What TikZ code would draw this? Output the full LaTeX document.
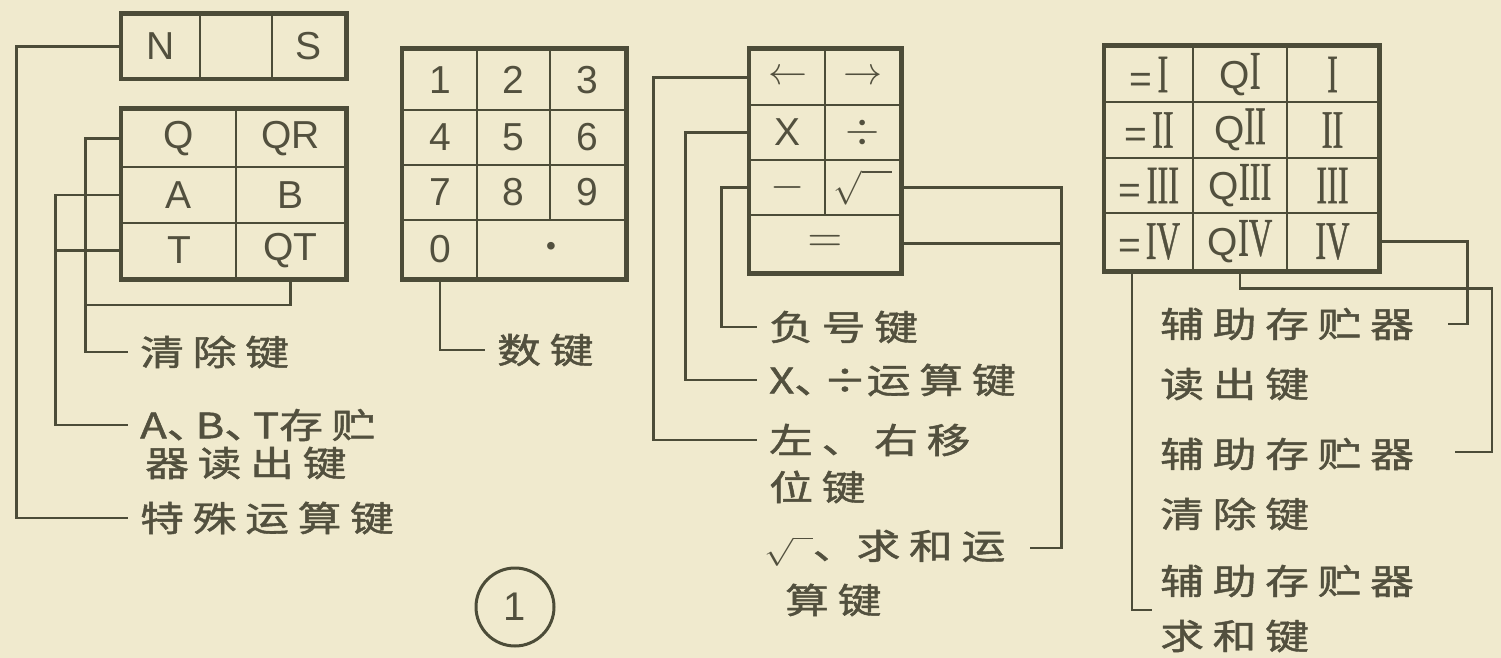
\RequirePackage{fix-cm}
\documentclass[tikz,border=0pt]{standalone}
\usepackage{graphicx}
\usepackage{fontspec}
\setmainfont{Liberation Sans}
\newfontfamily\cjk[LetterSpace=20,FakeBold=1.2]{Noto Sans CJK SC}
\newfontfamily\cjkt[FakeBold=1.2]{Noto Sans CJK SC}
\newfontfamily\serifnum[FakeBold=1]{Liberation Serif}
\newcommand\cn[1]{\scalebox{1.25}[1]{\cjk #1}}
\newcommand\rn[1]{\scalebox{0.6}[1]{\serifnum\fontsize{54}{54}\selectfont #1}}
\definecolor{paper}{RGB}{240,234,206}
\definecolor{ink}{RGB}{76,76,56}
\definecolor{txt}{RGB}{82,80,62}
\begin{document}
\begin{tikzpicture}[x=1pt,y=-1pt,
  cell/.style={draw=ink, line width=2.5pt, rectangle, inner sep=0pt, text=txt,
    font=\fontsize{39}{39}\selectfont},
  frame/.style={draw=ink, line width=4.5pt},
  conn/.style={draw=ink, line width=2.8pt},
  lbl/.style={text=txt, inner xsep=12pt, inner ysep=0pt, anchor=west,
    font=\fontsize{35}{35}\selectfont}
]
\fill[paper] (0,0) rectangle (1501,658);
\useasboundingbox (0,0) rectangle (1501,658);

% ---------- panel 1: N S ----------
\node[cell, minimum width=78pt, minimum height=63pt] (ns1) at (161,46.5) {N};
\node[cell, minimum width=72pt, minimum height=63pt] (ns2) at (236,46.5) {};
\node[cell, minimum width=73pt, minimum height=63pt] (ns3) at (308.5,46.5) {S};
\draw[frame] (ns1.north west) rectangle (ns3.south east);

% ---------- panel 2: Q QR A B T QT ----------
\node[cell, minimum width=114pt, minimum height=57pt] (q)  at (179,138.5) {Q};
\node[cell, minimum width=109pt, minimum height=57pt] (qr) at (290.5,138.5) {QR};
\node[cell, minimum width=114pt, minimum height=56pt] (a)  at (179,195) {A};
\node[cell, minimum width=109pt, minimum height=56pt] (b)  at (290.5,195) {B};
\node[cell, minimum width=114pt, minimum height=55pt] (t)  at (179,250.5) {T};
\node[cell, minimum width=109pt, minimum height=55pt] (qt) at (290.5,250.5) {QT};
\draw[frame] (q.north west) rectangle (qt.south east);

\node[lbl] (clr) at (128,352) {\cn{清除键}};
\node[lbl] (abt1) at (128,425) {\cn{\cjkt A、\kern-12pt B、\kern-12pt T\cjk 存贮}};
\node[lbl] (abt2) at (133,463) {\cn{器读出键}};
\node[lbl] (spc) at (128,518) {\cn{特殊运算键}};

\coordinate (qjoin) at (87,305);
\draw[conn] (ns1.west) -- ++(-104,0) |- (spc.west);
\draw[conn] (q.west) -- ++(-35,0) |- (clr.west);
\draw[conn] (qt.south) |- (qjoin);
\draw[conn] (a.west) -- ++(-65,0) |- (abt1.west);
\draw[conn] (t.west) -- ++(-65,0);

% ---------- panel 3: digits ----------
\begin{scope}[every node/.append style={font=\fontsize{41}{41}\selectfont}]
\node[cell, minimum width=74pt, minimum height=60pt] (k1) at (440,80) {1};
\node[cell, minimum width=73pt, minimum height=60pt] (k2) at (513.5,80) {2};
\node[cell, minimum width=75pt, minimum height=60pt] (k3) at (587.5,80) {3};
\node[cell, minimum width=74pt, minimum height=55pt] (k4) at (440,137.5) {4};
\node[cell, minimum width=73pt, minimum height=55pt] (k5) at (513.5,137.5) {5};
\node[cell, minimum width=75pt, minimum height=55pt] (k6) at (587.5,137.5) {6};
\node[cell, minimum width=74pt, minimum height=55pt] (k7) at (440,192.5) {7};
\node[cell, minimum width=73pt, minimum height=55pt] (k8) at (513.5,192.5) {8};
\node[cell, minimum width=75pt, minimum height=55pt] (k9) at (587.5,192.5) {9};
\node[cell, minimum width=74pt, minimum height=58pt] (k0) at (440,249) {0};
\node[cell, minimum width=148pt, minimum height=58pt] (kd) at (551,249) {\fontsize{28}{28}\selectfont •};
\end{scope}
\draw[frame] (k1.north west) rectangle (kd.south east);
\node[lbl] (numl) at (485,350) {\cn{数键}};
\draw[conn] (k0.south) |- (numl.west);

% ---------- panel 4: operators ----------
\begin{scope}[every node/.append style={font=\fontsize{50}{50}\selectfont}]
\node[cell, minimum width=75pt, minimum height=55pt] (la) at (787.5,77.5) {$\leftarrow$};
\node[cell, minimum width=75pt, minimum height=55pt] (ra) at (862.5,77.5) {$\rightarrow$};
\node[cell, minimum width=75pt, minimum height=55pt] (mul) at (787.5,132.5) {\fontsize{39}{39}\selectfont X};
\node[cell, minimum width=75pt, minimum height=55pt] (dv) at (862.5,132.5) {\fontsize{44}{44}\selectfont$\div$};
\node[cell, minimum width=75pt, minimum height=55pt] (mn) at (787.5,187.5) {\fontsize{44}{44}\selectfont$-$};
\node[cell, minimum width=75pt, minimum height=55pt] (sq) at (862.5,187.5) {\fontsize{34}{34}\selectfont$\sqrt{\phantom{X}}$};
\node[cell, minimum width=150pt, minimum height=57pt] (eq) at (825,243.5) {\fontsize{48}{48}\selectfont$=$};
\end{scope}
\draw[frame] (la.north west) rectangle (eq.south east);

\node[lbl] (negl) at (757,327) {\cn{负号键}};
\node[lbl] (mdl) at (757,380) {\cn{\cjkt X、\kern-12pt ÷\cjk 运算键}};
\node[lbl] (sh1) at (757,440) {\cn{左、右移}};
\node[lbl] (sh2) at (757,487) {\cn{位键}};
\node[lbl] (sm1) at (752,548) {\cn{{\fontsize{28}{28}\selectfont$\sqrt{\phantom{x}}$}\cjkt 、\cjk 求和运}};
\node[lbl] (sm2) at (773,600) {\cn{算键}};
\coordinate (smhook) at (1030,548);

\draw[conn] (la.west) -- ++(-95,0) |- (sh1.west);
\draw[conn] (mul.west) -- ++(-63,0) |- (mdl.west);
\draw[conn] (mn.west) -- ++(-27,0) |- (negl.west);
\draw[conn] (sq.east) -- ++(160,0) |- (smhook);
\draw[conn] (eq.east) -- ++(160,0);

% ---------- panel 5: registers ----------
\node[cell, minimum width=88pt, minimum height=55pt] (e1) at (1149,74.5) {=\hspace{5pt}\rn{I}};
\node[cell, minimum width=94pt, minimum height=55pt] (q1) at (1240,74.5) {Q\rn{I}};
\node[cell, minimum width=91pt, minimum height=55pt] (r1) at (1332.5,74.5) {\rn{I}};
\node[cell, minimum width=88pt, minimum height=56pt] (e2) at (1149,130) {=\hspace{5pt}\rn{II}};
\node[cell, minimum width=94pt, minimum height=56pt] (q2) at (1240,130) {Q\rn{II}};
\node[cell, minimum width=91pt, minimum height=56pt] (r2) at (1332.5,130) {\rn{II}};
\node[cell, minimum width=88pt, minimum height=55pt] (e3) at (1149,185.5) {=\hspace{5pt}\rn{III}};
\node[cell, minimum width=94pt, minimum height=55pt] (q3) at (1240,185.5) {Q\rn{III}};
\node[cell, minimum width=91pt, minimum height=55pt] (r3) at (1332.5,185.5) {\rn{III}};
\node[cell, minimum width=88pt, minimum height=57pt] (e4) at (1149,241.5) {=\hspace{5pt}\rn{IV}};
\node[cell, minimum width=94pt, minimum height=57pt] (q4) at (1240,241.5) {Q\rn{IV}};
\node[cell, minimum width=91pt, minimum height=57pt] (r4) at (1332.5,241.5) {\rn{IV}};
\draw[frame] (e1.north west) rectangle (r4.south east);

\node[lbl] (a1) at (1148,324) {\cn{辅助存贮器}};
\node[lbl] (a2) at (1148,384) {\cn{读出键}};
\node[lbl] (b1) at (1148,454) {\cn{辅助存贮器}};
\node[lbl] (b2) at (1148,514) {\cn{清除键}};
\node[lbl] (c1) at (1148,581) {\cn{辅助存贮器}};
\node[lbl] (c2) at (1148,636) {\cn{求和键}};
\coordinate (ahook) at (1448,324);
\coordinate (bhook) at (1455,452);
\coordinate (chook) at (1152,610);

\draw[conn] (r4.east) -- ++(88,0) |- (ahook);
\draw[conn] (q4.south) -- ++(0,17) -- ++(252,0) |- (bhook);
\draw[conn] ([xshift=-17pt]e4.south) |- (chook);

% ---------- figure number ----------
\node[draw=ink, line width=3pt, circle, minimum size=78pt, inner sep=0pt,
  text=txt, font=\fontsize{40}{40}\selectfont] (fig) at (515,607) {1};
\end{tikzpicture}
\end{document}
